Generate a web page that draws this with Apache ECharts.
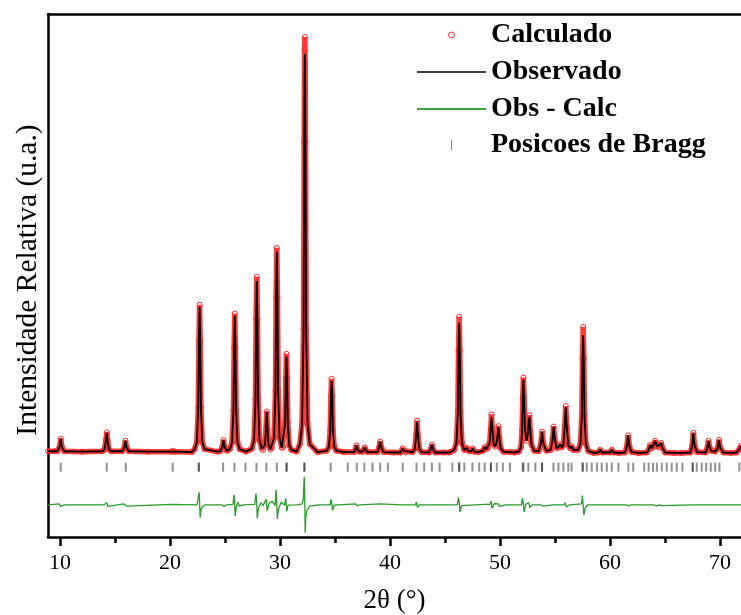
<!DOCTYPE html>
<html><head><meta charset="utf-8">
<script src="https://cdn.jsdelivr.net/npm/echarts@6/dist/echarts.min.js"></script>
<style>html,body{margin:0;padding:0;background:#fff}#c{width:741px;height:615px}</style>
</head><body><div id="c"></div>
<script>
// 2θ positions of the profile points (degrees)
const twoTheta = [
 8.9, 9.5,
 9.76, 9.96, 10.06, 10.16, 10.36,
 12.0,
 13.84, 14.04, 14.16, 14.24, 14.32, 14.44, 14.64,
 15.64, 15.84, 15.94, 16.04, 16.24,
 18.0, 20.1, 20.24, 20.4, 22.0,
 22.23, 22.43, 22.56, 22.62, 22.68, 22.74, 22.80, 22.93, 23.13,
 24.3,
 24.55, 24.75, 24.85, 24.95, 25.15,
 25.43, 25.63, 25.76, 25.82, 25.88, 25.94, 26.00, 26.13, 26.33,
 26.9,
 27.43, 27.63, 27.76, 27.82, 27.88, 27.94, 28.00, 28.13, 28.33,
 28.45, 28.62, 28.72, 28.79, 28.86, 28.96, 29.12,
 29.25, 29.45, 29.58, 29.64, 29.70, 29.76, 29.82, 29.95, 30.15,
 30.28, 30.46, 30.52, 30.58, 30.64, 30.70, 30.83, 31.03,
 31.5,
 31.80, 32.00, 32.13, 32.19, 32.22, 32.25, 32.28, 32.31, 32.37, 32.50, 32.70,
 33.4,
 34.23, 34.43, 34.56, 34.62, 34.68, 34.74, 34.80, 34.93, 35.13,
 35.8,
 36.74, 36.86, 36.94, 37.02, 37.20,
 37.5, 37.62, 37.7, 37.78, 37.95,
 38.85, 38.98, 39.1, 39.22, 39.4,
 40.3,
 40.95, 41.07, 41.15, 41.23, 41.4,
 42.05, 42.25, 42.37, 42.45, 42.53, 42.65, 42.85,
 43.55, 43.7, 43.8, 43.9, 44.1,
 44.9, 45.4,
 45.83, 46.03, 46.16, 46.22, 46.28, 46.34, 46.40, 46.53, 46.73,
 46.87, 46.97, 47.1, 47.38, 47.5, 47.65, 48.0,
 48.45, 48.6, 48.75,
 48.9, 49.05, 49.14, 49.22, 49.30, 49.42, 49.55,
 49.68, 49.77, 49.85, 49.93, 50.05, 50.3,
 50.9, 51.3,
 51.7, 51.9, 52.0, 52.06, 52.12, 52.18, 52.26, 52.4, 52.52, 52.6, 52.66, 52.74, 52.85, 53.1,
 53.5, 53.7, 53.82, 53.94, 54.2,
 54.6, 54.77, 54.87, 54.97, 55.15,
 55.35, 55.45, 55.6,
 55.75, 55.87, 55.97, 56.07, 56.2,
 56.38, 56.5, 56.65,
 57.1, 57.3, 57.43, 57.49, 57.55, 57.61, 57.67, 57.8, 58.0,
 58.5,
 58.95, 59.1, 59.25,
 60.0, 60.15, 60.3,
 60.8,
 61.35, 61.52, 61.64, 61.76, 61.95,
 62.6,
 63.35, 63.52, 63.64, 63.8, 63.95, 64.1, 64.25, 64.42, 64.54, 64.64, 64.76, 65.0,
 65.8, 66.5,
 67.3, 67.46, 67.57, 67.68, 67.9,
 68.7, 68.83, 68.94, 69.05, 69.2,
 69.55, 69.78, 69.9, 70.02, 70.3,
 71.0,
 71.5, 71.75, 71.9
];
// Observado (relative intensity)
const observado = [
 5, 5,
 5, 16, 35, 16, 5,
 4,
 5, 9, 29, 49, 29, 9, 5,
 5, 14, 30, 14, 5,
 4, 4, 6, 4, 3,
 10, 27, 108, 265, 350, 265, 108, 27, 10,
 4,
 5, 15, 32, 15, 6,
 10, 26, 102, 250, 329, 250, 102, 26, 10,
 4,
 11, 32, 127, 312, 412, 312, 127, 32, 11,
 8, 20, 57, 100, 57, 20, 9,
 13, 37, 148, 365, 482, 365, 148, 37, 13,
 15, 72, 176, 231, 176, 72, 19, 8,
 4,
 22, 70, 290, 719, 891, 955, 891, 719, 290, 70, 22,
 3,
 6, 15, 55, 133, 173, 133, 55, 15, 6,
 3,
 3, 10, 19, 10, 4,
 4, 8, 14, 8, 3,
 3, 13, 28, 13, 3,
 2,
 2, 6, 12, 6, 2,
 3, 11, 43, 76, 43, 11, 3,
 2, 10, 21, 10, 2,
 2, 2,
 8, 24, 96, 236, 312, 236, 96, 24, 8,
 9, 13, 6, 5, 12, 4, 3,
 6, 15, 10,
 13, 25, 55, 86, 55, 22, 16,
 25, 42, 63, 38, 12, 4,
 3, 2,
 4, 15, 55, 130, 176, 130, 58, 30, 45, 78, 87, 55, 20, 6,
 5, 22, 52, 22, 6,
 8, 35, 64, 33, 12,
 16, 22, 14,
 20, 62, 110, 60, 20,
 12, 17, 8,
 8, 22, 88, 215, 283, 215, 88, 22, 6,
 1,
 2, 9, 2,
 2, 9, 2,
 1,
 2, 16, 43, 16, 3,
 1,
 2, 9, 20, 12, 16, 30, 17, 14, 20, 25, 13, 2,
 1, 1,
 2, 18, 49, 18, 3,
 2, 12, 30, 14, 6,
 4, 13, 32, 13, 2,
 1,
 2, 10, 18
];
// Calculado (relative intensity)
const calculado = [
 5, 5,
 5, 16, 35, 16, 5,
 4,
 5, 9, 30, 50, 30, 9, 5,
 5, 14, 30, 14, 5,
 4, 4, 6, 4, 3,
 10, 27, 109, 268, 355, 268, 109, 27, 10,
 4,
 5, 15, 32, 15, 6,
 10, 26, 103, 253, 334, 253, 103, 26, 10,
 4,
 11, 32, 130, 320, 422, 320, 130, 32, 11,
 8, 20, 57, 100, 57, 20, 9,
 13, 37, 150, 371, 491, 371, 150, 37, 13,
 15, 74, 181, 238, 181, 74, 19, 8,
 4,
 22, 72, 298, 745, 965, 995, 930, 745, 298, 72, 22,
 3,
 6, 15, 56, 136, 178, 136, 56, 15, 6,
 3,
 3, 10, 19, 10, 4,
 4, 8, 14, 8, 3,
 3, 13, 28, 13, 3,
 2,
 2, 6, 12, 6, 2,
 3, 11, 44, 78, 44, 11, 3,
 2, 10, 21, 10, 2,
 2, 2,
 8, 25, 100, 246, 326, 246, 100, 25, 8,
 9, 13, 6, 5, 12, 4, 3,
 6, 15, 10,
 13, 25, 57, 93, 57, 22, 16,
 25, 42, 65, 38, 12, 4,
 3, 2,
 4, 15, 56, 133, 181, 133, 58, 30, 45, 80, 91, 55, 20, 6,
 5, 22, 52, 22, 6,
 8, 35, 64, 33, 12,
 16, 22, 14,
 20, 63, 113, 61, 20,
 12, 17, 8,
 8, 23, 92, 227, 302, 227, 92, 23, 6,
 1,
 2, 9, 2,
 2, 9, 2,
 1,
 2, 16, 43, 16, 3,
 1,
 2, 9, 20, 12, 16, 30, 17, 14, 20, 25, 13, 2,
 1, 1,
 2, 18, 49, 18, 3,
 2, 12, 30, 14, 6,
 4, 13, 32, 13, 2,
 1,
 2, 10, 18
];
// Obs - Calc curve (offset below the pattern)
const diffTheta = [
 8.9, 9.9, 10.06, 10.2, 10.4,
 14.0, 14.1, 14.24, 14.35, 14.5,
 15.8, 15.94, 16.05, 16.2,
 20.2, 22.45, 22.58, 22.63, 22.68, 22.73, 22.8, 22.95, 23.2,
 24.7, 24.78, 24.9, 25.1,
 25.72, 25.8, 25.86, 25.92, 26.0, 26.15, 26.3, 26.6,
 27.7, 27.8, 27.86, 27.93, 28.02, 28.25, 28.45, 28.74, 28.83, 29.0, 29.3, 29.55, 29.63, 29.69, 29.75, 29.84, 30.1, 30.4, 30.52, 30.6, 30.72,
 31.5, 32.0, 32.12, 32.19, 32.22, 32.25, 32.28, 32.33, 32.45, 32.7, 33.5,
 34.55, 34.63, 34.7, 34.77, 34.9,
 36.9, 37.0, 37.2, 39.05, 39.2, 41.1,
 42.3, 42.38, 42.5, 42.65,
 46.1, 46.15, 46.22, 46.28, 46.35, 46.5,
 48.6, 49.1, 49.18, 49.28, 49.45, 49.85, 49.95, 50.5,
 51.95, 52.03, 52.1, 52.18, 52.33, 52.6, 52.7, 52.9,
 53.7, 53.78, 53.9, 54.78, 54.85, 54.95, 55.1, 55.82, 55.9, 56.02, 56.3,
 57.4, 57.48, 57.55, 57.62, 57.75, 58.0,
 61.5, 61.6, 61.7, 61.9,
 63.95, 64.05, 64.18, 64.5, 64.6, 64.7, 64.85,
 67.45, 67.52, 67.62, 67.8,
 68.82, 68.9, 69.0, 69.8, 69.88, 69.98, 70.1, 71.9
];
const diffValues = [
 -123, -121, -127, -129, -123,
 -123, -120, -118, -127, -123,
 -121, -119, -126, -123,
 -122, -123, -119, -93, -112, -154, -135, -127, -123,
 -123, -120, -127, -123,
 -122, -99, -113, -150, -131, -117, -126, -123,
 -122, -96, -111, -155, -133, -118, -125, -110, -137, -119, -115, -125, -88, -112, -157, -134, -117, -124, -108, -139, -124,
 -123, -121, -108, -56, -82, -122, -190, -152, -136, -126, -123,
 -123, -110, -120, -137, -124,
 -121, -126, -123, -121, -125, -123,
 -123, -117, -129, -123,
 -123, -121, -106, -116, -140, -125,
 -122, -122, -114, -132, -120, -121, -127, -123,
 -123, -107, -118, -140, -122, -118, -130, -123,
 -123, -120, -126, -123, -121, -126, -123, -123, -118, -128, -123,
 -121, -101, -124, -148, -129, -123,
 -123, -120, -126, -123,
 -123, -120, -126, -123, -121, -125, -123,
 -123, -119, -126, -123,
 -123, -121, -125, -123, -121, -125, -123, -123
];
// Bragg reflection positions (2θ)
const braggTheta = [
 10.06, 14.24, 15.97, 20.24, 22.6, 22.62, 24.82, 25.85, 26.85, 27.85, 28.75, 29.7, 30.58, 30.6,
 32.2, 32.22, 34.6, 36.15, 36.97, 37.66, 38.4, 39.1, 39.8, 41.15, 42.4, 43.1, 43.8, 44.5,
 45.66, 46.27, 46.29, 46.75, 47.48, 48.1, 48.6, 49.15, 49.17, 49.7, 50.25, 50.9, 52.06, 52.12,
 52.57, 53.2, 53.8, 53.82, 54.85, 55.3, 55.75, 56.2, 56.5, 57.5, 57.52, 57.88, 58.33, 58.8, 59.24,
 59.7, 60.15, 60.76, 61.66, 62.1, 63.1, 63.5, 63.9, 64.25, 64.7, 65.15, 65.6, 66.06, 66.57,
 67.5, 67.52, 67.88, 68.33, 68.73, 69.15, 69.55, 69.94, 71.75
];
const braggLevel = -33;
const majorTicks = [10, 20, 30, 40, 50, 60, 70];
const minorTicks = [15, 25, 35, 45, 55, 65];

const pairs = (xs, ys) => xs.map((x, i) => [x, ys[i]]);
const serif = '"Liberation Serif", "Times New Roman", serif';
const legendText = {fontFamily: serif, fontSize: 28, fontWeight: 'bold', color: '#000'};
const X_MIN = 8.9, X_MAX = 71.9;

const chart = echarts.init(document.getElementById('c'), null, {renderer: 'canvas'});
chart.setOption({
  animation: false,
  backgroundColor: '#fff',
  grid: {left: 48, right: 0, top: 14, bottom: 78, containLabel: false, outerBoundsMode: 'none'},
  xAxis: [
    {type: 'value', min: X_MIN, max: X_MAX, position: 'bottom',
     axisLine: {show: true, onZero: false, lineStyle: {color: '#000', width: 2.5}},
     axisTick: {show: true, customValues: majorTicks, length: 9, lineStyle: {color: '#000', width: 2.5}},
     axisLabel: {customValues: majorTicks, fontFamily: serif, fontSize: 22, color: '#000', margin: 15},
     splitLine: {show: false},
     name: '2θ (°)', nameLocation: 'middle', nameGap: 50,
     nameTextStyle: {fontFamily: serif, fontSize: 27, color: '#000'}},
    {type: 'value', min: X_MIN, max: X_MAX, position: 'bottom',
     axisLine: {show: false, onZero: false},
     axisTick: {show: true, customValues: minorTicks, length: 6, lineStyle: {color: '#000', width: 2.5}},
     axisLabel: {show: false}, splitLine: {show: false}},
    {type: 'value', min: X_MIN, max: X_MAX, position: 'top',
     axisLine: {show: true, onZero: false, lineStyle: {color: '#000', width: 2.5}},
     axisTick: {show: false}, axisLabel: {show: false}, splitLine: {show: false}}
  ],
  yAxis: {type: 'value', min: -200, max: 1050,
    axisLine: {show: true, onZero: false, lineStyle: {color: '#000', width: 2.5}},
    axisTick: {show: false}, axisLabel: {show: false}, splitLine: {show: false},
    name: 'Intensidade Relativa (u.a.)', nameLocation: 'middle', nameGap: 5,
    nameTextStyle: {fontFamily: serif, fontSize: 29.5, color: '#000', padding: [0, 9, 0, 0]}},
  legend: [
    {data: [{name: 'Calculado', icon: 'circle', itemStyle: {color: 'rgba(0,0,0,0)', borderColor: '#ff3030', borderWidth: 1}}],
     left: 448, top: 21, itemWidth: 69, itemHeight: 6, padding: 0, selectedMode: false, textStyle: legendText},
    {data: [{name: 'Observado', icon: 'rect', itemStyle: {color: '#000'}}],
     left: 417, top: 58, itemWidth: 69, itemHeight: 1.5, padding: 0, selectedMode: false, textStyle: legendText},
    {data: [{name: 'Obs - Calc', icon: 'rect', itemStyle: {color: '#3aa63a'}}],
     left: 417, top: 95, itemWidth: 69, itemHeight: 2, padding: 0, selectedMode: false, textStyle: legendText},
    {data: [{name: 'Posicoes de Bragg', icon: 'path://M0,0h1v10h-1z', itemStyle: {color: '#666'}}],
     left: 451, top: 131, itemWidth: 69, itemHeight: 10, symbolKeepAspect: true, padding: 0, selectedMode: false, textStyle: legendText}
  ],
  series: [
    {name: 'Calculado', type: 'line', xAxisIndex: 0, data: pairs(twoTheta, calculado),
     symbol: 'circle', symbolSize: 5, showSymbol: true,
     itemStyle: {color: 'rgba(0,0,0,0)', borderColor: '#ff2a2a', borderWidth: 1},
     lineStyle: {color: 'rgba(255,25,25,0.85)', width: 5.5}, z: 2, emphasis: {disabled: true}},
    {name: 'Observado', type: 'line', xAxisIndex: 0, data: pairs(twoTheta, observado),
     symbol: 'none', showSymbol: false, itemStyle: {color: '#000'},
     lineStyle: {color: '#000', width: 1.8}, z: 3, emphasis: {disabled: true}},
    {name: 'Obs - Calc', type: 'line', xAxisIndex: 0, data: pairs(diffTheta, diffValues),
     symbol: 'none', showSymbol: false, itemStyle: {color: '#2a9a2a'},
     lineStyle: {color: '#2a9a2a', width: 1.3}, z: 3, emphasis: {disabled: true}},
    {name: 'Posicoes de Bragg', type: 'scatter', xAxisIndex: 0,
     data: braggTheta.map(x => [x, braggLevel]),
     symbol: 'rect', symbolSize: [2, 9], itemStyle: {color: 'rgba(0,0,0,0.55)'}, z: 2,
     emphasis: {disabled: true}}
  ]
});
</script>
</body></html>
